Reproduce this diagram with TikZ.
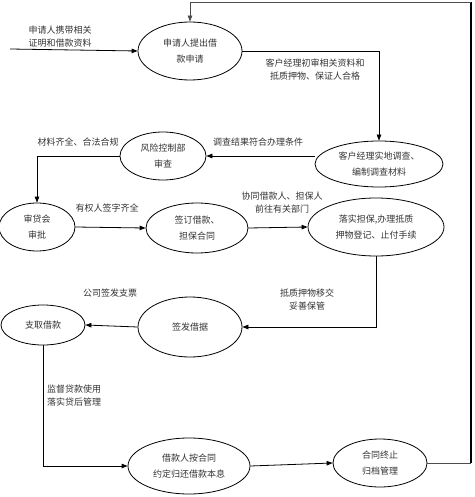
\documentclass[tikz,border=0pt]{standalone}
\usepackage{fontspec}
\newfontfamily\cjk{Noto Sans CJK SC}
\usetikzlibrary{shapes.geometric,arrows.meta}
\begin{document}
\begin{tikzpicture}[x=1pt,y=-1pt,
  el/.style={ellipse,draw,line width=0.8pt,inner sep=0pt,align=center,
    font=\cjk\fontsize{9}{16}\selectfont,text=black!80},
  lbl/.style={align=center,inner sep=0pt,font=\cjk\fontsize{9}{13}\selectfont,text=black!80},
  arr/.style={draw,line width=0.8pt,-{Triangle[length=6pt,width=4.5pt]}},
  ln/.style={draw,line width=0.8pt}]
\useasboundingbox (0,0) rectangle (474,497);
% nodes
\node[el,minimum width=104pt,minimum height=58pt] (e1) at (190,51) {申请人提出借\\款申请};
\node[el,minimum width=128pt,minimum height=46pt] (e2) at (379,164) {客户经理实地调查、\\编制调查材料};
\node[el,minimum width=86pt,minimum height=48pt] (e3) at (163,156) {风险控制部\\审查};
\node[el,minimum width=76pt,minimum height=48pt] (e4) at (37,227) {审贷会\\审批};
\node[el,minimum width=102pt,minimum height=50pt] (e5) at (197,228) {签订借款、\\担保合同};
\node[el,minimum width=136pt,minimum height=58pt] (e6) at (376,227) {落实担保,办理抵质\\押物登记、止付手续};
\node[el,minimum width=104pt,minimum height=60pt] (e7) at (190,327) {签发借据};
\node[el,minimum width=84pt,minimum height=40pt] (e8) at (43,325) {支取借款};
\node[el,minimum width=122pt,minimum height=56pt] (e9) at (189,466) {借款人按合同\\约定归还借款本息};
\node[el,minimum width=94pt,minimum height=48pt] (e10) at (380,463) {合同终止\\归档管理};
% labels
\node[lbl] (l1) at (60,37) {申请人携带相关\\证明和借款资料};
\node[lbl] (l2) at (315,70) {客户经理初审相关资料和\\抵质押物、保证人合格};
\node[lbl] (l3) at (258,142) {调查结果符合办理条件};
\node[lbl] (l4) at (78,142) {材料齐全、合法合规};
\node[lbl] (l5) at (107,208) {有权人签字齐全};
\node[lbl] (l6) at (282,203) {协同借款人、担保人\\前往有关部门};
\node[lbl] (l7) at (307,300) {抵质押物移交\\妥善保管};
\node[lbl] (l8) at (110,293) {公司签发支票};
\node[lbl] (l9) at (74,396) {监督贷款使用\\落实贷后管理};
% coordinates
\coordinate (in) at (10,49);
\coordinate (rx) at (471,2);
\coordinate (r1) at (e10.east -| rx);
\coordinate (r2) at (rx);
% connectors
\draw[arr] (in) -- (e1.west);
\draw[arr] (e1.east) -| (e2.north);
\draw[arr] (e2.west |- e3.east) -- (e3.east);
\draw[arr] (e3.west) -| (e4.north);
\draw[arr] (e4.east) -- (e5.west);
\draw[arr] (e5.east) -- (e6.west);
\draw[arr] (e6.south) |- (e7.east);
\draw[arr] (e7.west) -- (e8.east);
\draw[arr] (e8.south) |- (e9.west);
\draw[arr] (e9.east) -- (e10.west);
\draw[ln,black!70] (e10.east) -- (r1);
\draw[line width=1.5pt] (r1) -- (r2);
\draw[arr,black!70] (r2) -| (e1.north);
\end{tikzpicture}
\end{document}
